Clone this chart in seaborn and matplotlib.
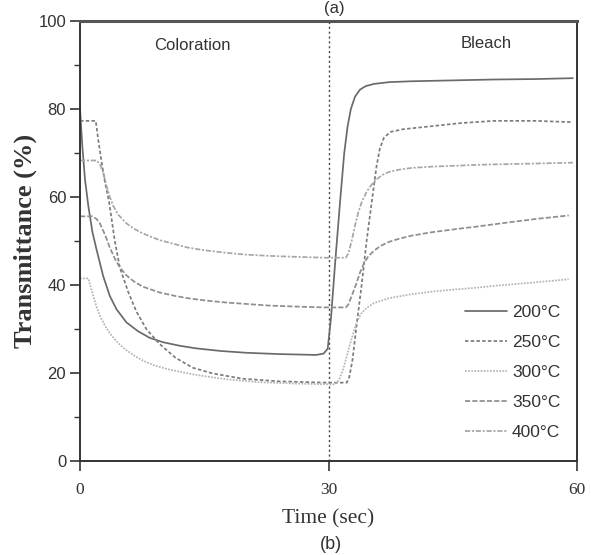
import numpy as np
import pandas as pd
import matplotlib
matplotlib.use("Agg")
import matplotlib.pyplot as plt
import seaborn as sns

# ---- data ----
labels = ["200°C", "250°C", "300°C", "350°C", "400°C"]

t200 = [0, 0.3, 0.6, 1.0, 1.5, 2.0, 2.8, 3.6, 4.4, 5.6, 7.0, 8.4, 10, 12, 14, 17, 20, 24,
        28.5, 29.4, 29.9, 30.3, 30.8, 31.4, 31.9, 32.3, 32.7, 33.2, 33.8, 34.5, 35.5, 37.3,
        40, 45, 50, 55, 59.5]
v200 = [80, 71, 64, 58, 52, 48, 42, 37.5, 34.5, 31.5, 29.5, 28, 27, 26.2, 25.6, 25, 24.6, 24.3,
        24.1, 24.4, 25.5, 32.5, 45, 59, 70, 76, 80, 82.8, 84.4, 85.2, 85.7, 86.1,
        86.3, 86.5, 86.7, 86.8, 87]

t250 = [0, 1.9, 2.2, 2.6, 3.0, 3.5, 4.2, 4.8, 5.8, 6.8, 8.0, 9.6, 11.5, 13.6, 16, 19.6, 24,
        29.7, 32.2, 32.5, 32.9, 33.4, 34.0, 34.6, 35.3, 35.8, 36.2, 36.7, 37.5, 39, 42, 46,
        50, 55, 59.5]
v250 = [77.3, 77.3, 73, 68, 63.5, 59, 50, 44, 38.5, 34, 30, 26.6, 23.5, 21.2, 19.9, 18.7, 18.1,
        17.8, 17.8, 19, 23, 31, 40, 50, 60, 67, 71, 73.5, 74.8, 75.4, 76, 76.8,
        77.3, 77.3, 77]

t300 = [0, 1.0, 1.3, 1.6, 2.0, 2.5, 3.0, 3.6, 4.5, 5.5, 6.5, 7.6, 9, 10.5, 12, 13.6, 16, 18,
        21.7, 26, 30.8, 31.3, 31.8, 32.3, 32.9, 33.4, 33.9, 34.6, 35.5, 37.3, 40, 43, 45.4,
        48, 50, 55, 59]
v300 = [41.5, 41.5, 39.5, 37.5, 35, 32.6, 30.8, 29, 27, 25.3, 24, 22.8, 21.7, 20.9, 20.3, 19.7,
        19, 18.5, 17.9, 17.6, 17.4, 18.5, 21, 24.5, 28.5, 31.5, 33.4, 34.8, 35.9, 37, 37.9,
        38.6, 39, 39.4, 39.8, 40.6, 41.3]

t350 = [0, 1.5, 2.0, 2.4, 3.0, 3.6, 4.2, 4.8, 5.6, 6.5, 7.6, 9.6, 11.5, 13, 15, 17.7, 20, 23,
        26, 29.5, 32.1, 32.4, 32.8, 33.3, 33.8, 34.3, 34.8, 35.5, 36.3, 37.3, 38.5, 40, 42.5,
        45.4, 48, 50, 55, 59]
v350 = [55.6, 55.6, 55, 54, 51.5, 48.5, 46, 44, 42.2, 40.8, 39.6, 38.3, 37.5, 37, 36.5, 36,
        35.7, 35.3, 35.1, 34.9, 34.9, 35.6, 37.5, 40, 42.8, 45, 46.5, 47.8, 48.9, 49.8, 50.5,
        51.2, 52, 52.7, 53.3, 53.8, 55, 55.8]

t400 = [0, 2.0, 2.4, 2.8, 3.2, 3.6, 4.0, 4.6, 5.6, 6.5, 7.5, 8.5, 9.6, 11, 13, 15, 17.7, 20,
        23, 26, 29.5, 32.1, 32.4, 32.8, 33.2, 33.6, 34.0, 34.6, 35.2, 35.8, 36.5, 37.3, 38.5,
        40, 42.5, 45.3, 48, 50, 55, 59.5]
v400 = [68.3, 68.3, 67.5, 65.5, 62.5, 60, 58, 56, 54, 52.8, 51.8, 51, 50.2, 49.5, 48.5, 47.9,
        47.3, 46.9, 46.6, 46.4, 46.2, 46.2, 47.2, 50, 53.5, 56.5, 58.8, 61.2, 62.8, 64, 65,
        65.7, 66.2, 66.6, 66.9, 67.1, 67.3, 67.4, 67.6, 67.8]

times = [t200, t250, t300, t350, t400]
values = [v200, v250, v300, v350, v400]

df = pd.concat(
    [pd.DataFrame({"Time": t, "T": v, "Temp": lab}) for t, v, lab in zip(times, values, labels)],
    ignore_index=True,
)

# ---- style ----
sns.set_style("ticks")
plt.rcParams["font.family"] = ["Liberation Sans", "DejaVu Sans"]

palette = {"200°C": "#6a6a6a", "250°C": "#7c7c7c", "300°C": "#b4b4b4",
           "350°C": "#8e8e8e", "400°C": "#a6a6a6"}
dashes = {"200°C": "", "250°C": (2, 1.3), "300°C": (1, 0.8),
          "350°C": (3, 1.2), "400°C": (3, 1, 1.2, 1)}

fig = plt.figure(figsize=(5.91, 5.55), dpi=100)
ax = fig.add_axes([0.1354, 0.1694, 0.8409, 0.7928])

sns.lineplot(data=df, x="Time", y="T", hue="Temp", style="Temp", palette=palette,
             dashes=dashes, estimator=None, sort=False, linewidth=1.25, ax=ax)

ax.axvline(30, color="#444444", linestyle=(0, (1.5, 2)), linewidth=1.0, zorder=0)

ax.set_xlim(0, 60)
ax.set_ylim(0, 100)
ax.set_xticks([0, 30, 60])
ax.set_yticks([0, 20, 40, 60, 80, 100])
ax.set_yticks([10, 30, 50, 70, 90], minor=True)
ax.tick_params(axis="both", which="major", direction="out", length=7, width=1.2,
               color="#333333", pad=3)
ax.tick_params(axis="x", which="major", pad=8)
ax.tick_params(axis="y", which="minor", direction="out", length=4, width=1.0, color="#333333")
for lbl in ax.get_yticklabels():
    lbl.set_fontfamily("Liberation Sans")
    lbl.set_fontsize(12)
    lbl.set_color("#333333")
for lbl in ax.get_xticklabels():
    lbl.set_fontfamily("Liberation Serif")
    lbl.set_fontsize(12.5)
    lbl.set_color("#333333")

for side in ["left", "bottom", "right"]:
    ax.spines[side].set_visible(True)
    ax.spines[side].set_linewidth(1.4)
    ax.spines[side].set_color("#333333")
ax.spines["top"].set_visible(True)
ax.spines["top"].set_linewidth(2.2)
ax.spines["top"].set_color("#555555")

ax.set_xlabel("Time (sec)", fontfamily="Liberation Serif", fontsize=15.5, color="#333333",
              labelpad=8)
ax.set_ylabel("Transmittance (%)", fontfamily="Liberation Serif", fontweight="bold",
              fontsize=19, color="#333333", labelpad=1)

ax.text(13.6, 94.5, "Coloration", fontsize=12, color="#333333", ha="center", va="center")
ax.text(49, 94.8, "Bleach", fontsize=12, color="#333333", ha="center", va="center")

leg = ax.legend(loc="upper left", bbox_to_anchor=(0.775, 0.354), frameon=False,
                fontsize=12.5, handlelength=2.4, handletextpad=0.3, labelspacing=0.85,
                borderpad=0, borderaxespad=0)
for txt in leg.get_texts():
    txt.set_color("#333333")

fig.text(0.566, 0.999, "(a)", fontsize=12, color="#333333", ha="center", va="top")
fig.text(0.56, 0.003, "(b)", fontsize=13, color="#333333", ha="center", va="bottom")

fig.savefig("out.png", dpi=100)
